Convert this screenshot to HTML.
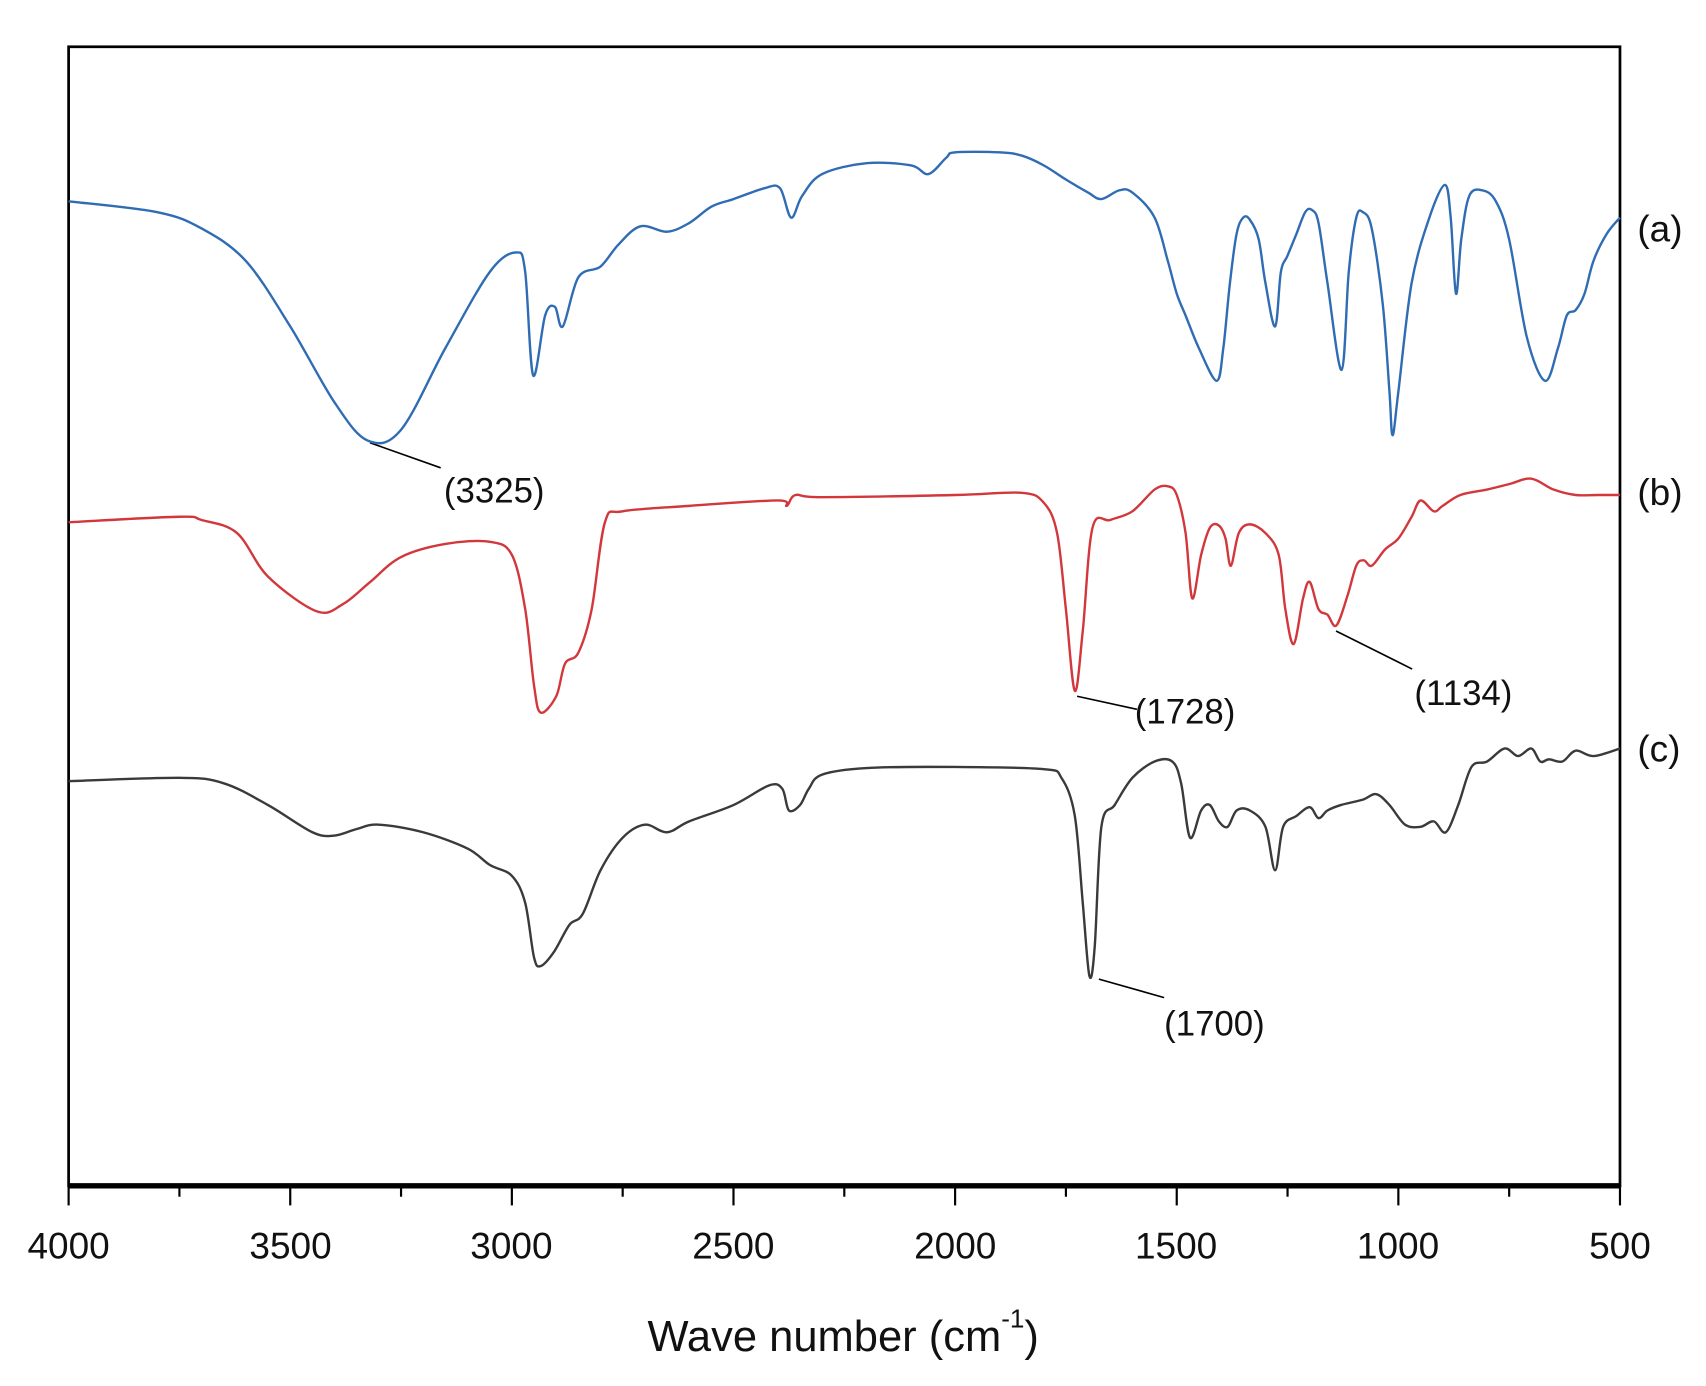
<!DOCTYPE html>
<html><head><meta charset="utf-8"><style>
html,body{margin:0;padding:0;background:#fff;}
svg{display:block;}
text{font-family:"Liberation Sans",Arial,sans-serif;fill:#111;}
</style></head><body>
<svg id="s" width="1706" height="1386" viewBox="0 0 1568 1274" xmlns="http://www.w3.org/2000/svg">
<rect x="0" y="0" width="1568" height="1274" fill="#fff"/>
<rect x="63" y="43" width="1426" height="1047" fill="none" stroke="#000" stroke-width="2.5"/>
<line x1="63" y1="1090" x2="1489" y2="1090" stroke="#000" stroke-width="5"/>
<g id="ticks" stroke="#000" stroke-width="2"></g>
<g font-size="34" text-anchor="middle">
<text x="63" y="1157">4000</text><text x="267" y="1157">3500</text><text x="470" y="1157">3000</text>
<text x="674" y="1157">2500</text><text x="878" y="1157">2000</text><text x="1081" y="1157">1500</text>
<text x="1285" y="1157">1000</text><text x="1489" y="1157">500</text>
</g>
<text x="775" y="1242" font-size="40" text-anchor="middle">Wave number (cm<tspan font-size="24" dy="-22">-1</tspan><tspan dy="22">)</tspan></text>
<g font-size="34"><text x="1505" y="222">(a)</text><text x="1505" y="464">(b)</text><text x="1505" y="700">(c)</text></g>
<g stroke="#000" stroke-width="1.5">
<line x1="340" y1="407" x2="405" y2="430"/><line x1="990" y1="640" x2="1045" y2="652"/>
<line x1="1228" y1="580" x2="1298" y2="615"/><line x1="1010" y1="900" x2="1070" y2="917"/>
</g>
<g font-size="32"><text x="408" y="462">(3325)</text><text x="1043" y="665">(1728)</text>
<text x="1300" y="648">(1134)</text><text x="1070" y="952">(1700)</text></g>
<path id="a" fill="none" stroke="#2f6cb3" stroke-width="2.2"/>
<path id="b" fill="none" stroke="#d2373c" stroke-width="2.2"/>
<path id="c" fill="none" stroke="#3a3a3a" stroke-width="2.2"/>
</svg>
<script>
var X=function(w){return 63+(4000-w)*1426/3500;};
var t=document.getElementById('ticks'),h='';
for(var w=4000;w>=500;w-=250){var x=X(w);h+='<line x1="'+x+'" y1="1090" x2="'+x+'" y2="'+(w%500==0?1108:1100)+'"/>';}
t.innerHTML=h;
function P(id,d){var p=[];for(var i=0;i<d.length;i+=2)p.push([X(d[i]),d[i+1]]);
var s='M'+p[0][0].toFixed(1)+' '+p[0][1];
for(var i=0;i<p.length-1;i++){var p0=p[i-1]||p[i],p1=p[i],p2=p[i+1],p3=p[i+2]||p2;
var c1=[p1[0]+(p2[0]-p0[0])/6,p1[1]+(p2[1]-p0[1])/6],c2=[p2[0]-(p3[0]-p1[0])/6,p2[1]-(p3[1]-p1[1])/6];
s+=' C'+c1[0].toFixed(1)+' '+c1[1].toFixed(1)+' '+c2[0].toFixed(1)+' '+c2[1].toFixed(1)+' '+p2[0].toFixed(1)+' '+p2[1].toFixed(1);}
document.getElementById(id).setAttribute('d',s);}
P('a',[4000,185,3800,195,3700,210,3600,240,3500,300,3400,370,3325,405,3250,395,3150,320,3050,250,2990,232,2970,250,2952,345,2925,290,2903,282,2885,300,2850,255,2800,245,2760,225,2710,208,2650,213,2600,205,2550,190,2500,183,2430,173,2395,173,2370,200,2345,180,2300,160,2200,150,2100,152,2060,160,2020,145,2000,140,1900,140,1850,143,1800,152,1750,165,1700,177,1670,183,1630,175,1600,177,1550,200,1520,240,1500,270,1480,290,1450,320,1410,350,1395,320,1380,260,1365,215,1350,200,1335,202,1315,220,1300,260,1278,300,1265,250,1250,235,1230,215,1210,195,1195,193,1180,205,1160,260,1128,340,1112,250,1095,200,1080,195,1060,210,1035,280,1020,360,1013,400,1000,360,970,260,930,200,895,170,882,200,870,270,858,220,840,180,810,175,780,185,750,220,710,310,669,350,640,320,620,290,600,285,580,270,560,240,530,215,500,200]);
P('b',[4000,480,3750,475,3700,478,3620,490,3550,530,3440,562,3380,555,3320,535,3250,512,3150,500,3050,498,3000,510,2970,560,2950,630,2935,655,2900,640,2880,610,2850,600,2820,560,2790,480,2750,470,2600,465,2400,460,2380,465,2360,455,2300,457,2000,455,1850,453,1800,462,1770,490,1750,560,1730,635,1712,580,1690,485,1650,478,1600,470,1550,450,1520,447,1500,455,1480,490,1465,550,1445,510,1425,485,1405,483,1390,495,1378,520,1360,490,1335,482,1300,490,1270,510,1255,560,1236,592,1215,550,1200,535,1180,560,1160,565,1140,575,1115,548,1095,520,1078,515,1060,520,1030,505,1000,495,970,475,950,460,920,470,900,465,860,455,800,450,750,445,700,440,650,450,600,455,550,455,500,455]);
P('c',[4000,718,3750,715,3650,720,3550,740,3450,765,3400,768,3350,762,3300,758,3200,765,3100,780,3050,795,3000,805,2970,830,2950,880,2935,888,2905,875,2870,850,2840,840,2800,800,2750,770,2700,758,2650,765,2600,755,2500,740,2420,722,2390,725,2375,745,2350,740,2330,725,2300,712,2200,706,2000,705,1800,707,1760,715,1730,750,1712,830,1697,897,1685,870,1670,760,1640,740,1600,715,1550,700,1510,700,1490,720,1470,770,1445,745,1425,740,1405,755,1385,760,1365,745,1335,745,1300,760,1278,800,1260,760,1230,750,1200,742,1180,752,1160,745,1130,740,1080,735,1050,730,1020,740,985,758,950,760,920,755,893,765,865,740,835,705,800,700,760,688,730,695,700,688,680,700,660,698,630,700,600,690,560,695,500,688]);
</script>
</body></html>
